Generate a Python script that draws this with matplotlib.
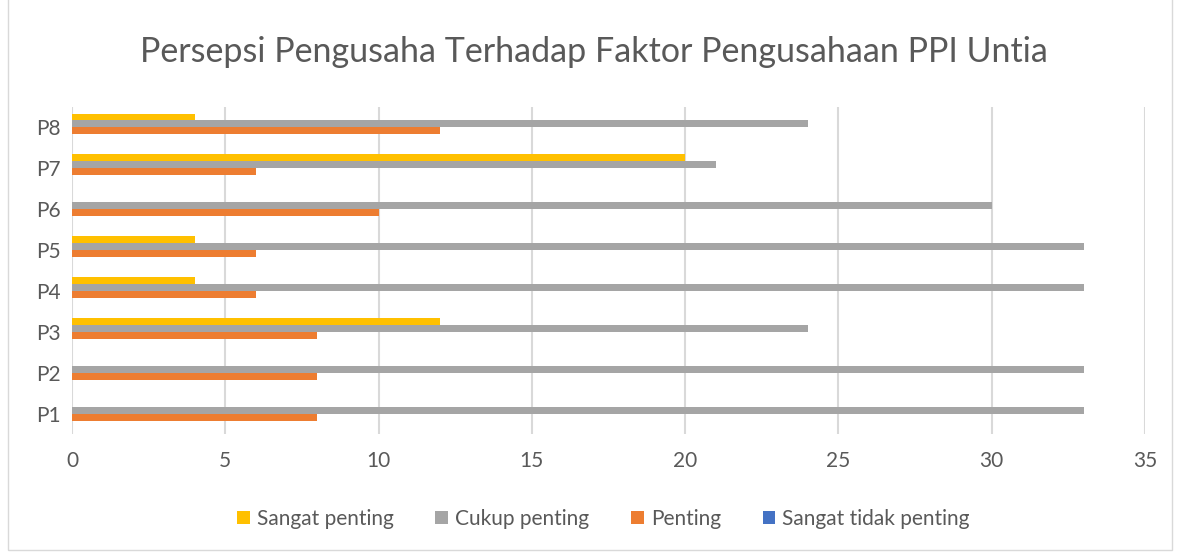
import matplotlib.pyplot as plt
import numpy as np
from matplotlib.patches import Rectangle

# data
categories = ['P1', 'P2', 'P3', 'P4', 'P5', 'P6', 'P7', 'P8']
sangat_tidak_penting = [0, 0, 0, 0, 0, 0, 0, 0]
penting = [8, 8, 8, 6, 6, 10, 6, 12]
cukup_penting = [33, 33, 24, 33, 33, 30, 21, 24]
sangat_penting = [0, 0, 12, 4, 4, 0, 20, 4]

plt.rcParams['font.family'] = ['Lato', 'DejaVu Sans']
text_col = '#595959'

fig = plt.figure(figsize=(11.81, 5.54), dpi=100)
ax = fig.add_axes([0.061, 0.2166, 0.9085, 0.5903])

y = np.arange(len(categories))
h = 0.17
series = [
    (sangat_tidak_penting, '#4472C4', 'Sangat tidak penting'),
    (penting, '#ED7D31', 'Penting'),
    (cukup_penting, '#A5A5A5', 'Cukup penting'),
    (sangat_penting, '#FFC000', 'Sangat penting'),
]
handles = []
for i, (vals, col, lab) in enumerate(series):
    b = ax.barh(y + (i - 1.5) * h, vals, height=h, color=col, label=lab, zorder=3)
    handles.append(b)

ax.set_xlim(0, 35)
ax.set_ylim(-0.5, 7.5)
ax.set_xticks(np.arange(0, 36, 5))
ax.set_yticks(y)
ax.set_yticklabels(categories)
ax.grid(axis='x', color='#d9d9d9', linewidth=1.5, zorder=0)
for s in ax.spines.values():
    s.set_visible(False)
ax.tick_params(length=0, labelsize=15, colors=text_col, pad=8)
ax.tick_params(axis='x', pad=12)

fig.suptitle('Persepsi Pengusaha Terhadap Faktor Pengusahaan PPI Untia',
             x=0.503, y=0.935, fontsize=24.5, color=text_col)

fig.legend(handles[::-1], [s[2] for s in series][::-1], loc='center',
           bbox_to_anchor=(0.511, 0.063), ncol=4, frameon=False, fontsize=15,
           labelcolor=text_col, handlelength=0.6, handleheight=0.6,
           handletextpad=0.35, columnspacing=2.0)

fig.patches.append(Rectangle((8 / 1181, 4 / 554), 1164 / 1181, 560 / 554,
                             transform=fig.transFigure, fill=False,
                             edgecolor='#d9d9d9', linewidth=1))

fig.savefig('out.png', dpi=100)
